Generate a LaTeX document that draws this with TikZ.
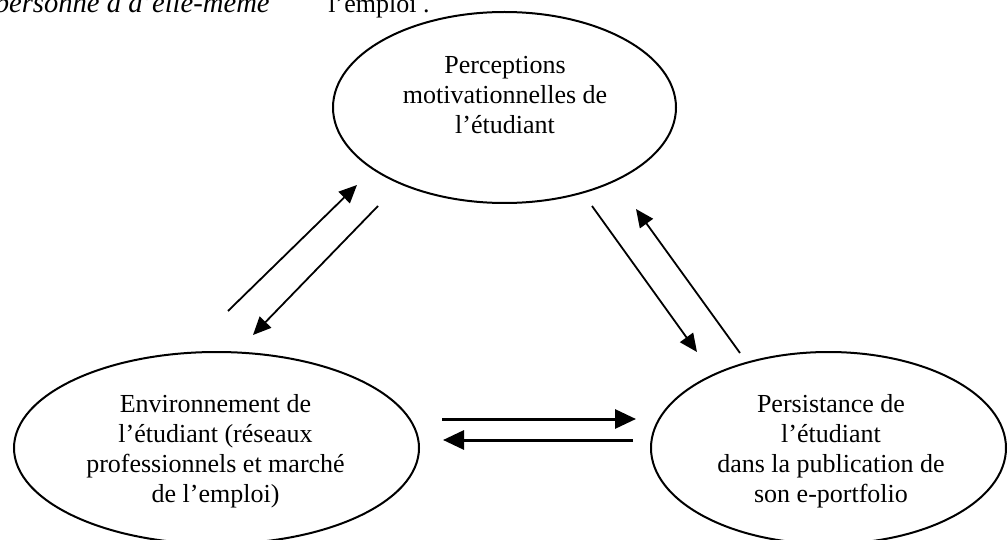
\documentclass[tikz,border=0pt]{standalone}
\usepackage{fontspec}
\setmainfont{Liberation Serif}
\usetikzlibrary{arrows.meta,shapes.geometric}
\tikzset{
  bubble/.style={draw, ellipse, line width=1pt, inner sep=0pt},
  bubbletext/.style={align=center, inner sep=0pt, font=\fontsize{13}{15}\selectfont},
  thinarrow/.style={line width=0.9pt, -{Triangle[length=9pt,width=8pt]}},
  thickarrow/.style={line width=1.5pt, -{Triangle[length=10.5pt,width=9.5pt]}},
  toptext/.style={inner sep=0pt, font=\fontsize{13}{15}\selectfont}
}
\begin{document}
\begin{tikzpicture}[x=0.5pt,y=-0.5pt]
\useasboundingbox (0,0) rectangle (1008,540);
\clip (0,0) rectangle (1008,540);
% cut-off text at top
\node[toptext, font=\fontsize{14.3}{16}\selectfont\itshape, anchor=base east] (t1) at (270,13) {personne à d’elle-même};
\node[toptext, anchor=base west] (t2) at (328,13) {l’emploi .};
% ellipses
\node[bubble, minimum width=171.5pt, minimum height=95.5pt] (top) at (504.5,107.5) {};
\node[bubble, minimum width=202.5pt, minimum height=96pt] (left) at (216.5,448) {};
\node[bubble, minimum width=177.5pt, minimum height=96pt] (right) at (828.5,448) {};
% texts
\node[bubbletext] (toptxt) at (505,95) {Perceptions\\motivationnelles de\\l’étudiant};
\node[bubbletext] (lefttxt) at (215.5,451.5) {Environnement de\\l’étudiant (réseaux\\professionnels et marché\\de l’emploi)};
\node[bubbletext] (righttxt) at (831,451.5) {Persistance de\\l’étudiant\\dans la publication de\\son e-portfolio};
% arrow end points
\coordinate (a1s) at (228,311);
\coordinate (a1e) at (357,185);
\coordinate (a2s) at (378,206);
\coordinate (a2e) at (253,335);
\coordinate (a3s) at (592,206);
\coordinate (a3e) at (697,352);
\coordinate (a4s) at (740,353);
\coordinate (a4e) at (636,209);
\coordinate (a5s) at (442,419);
\coordinate (a5e) at (636,419);
\coordinate (a6s) at (633,440);
\coordinate (a6e) at (443,440);
% connectors
\draw[thinarrow] (a1s) -- (a1e);
\draw[thinarrow] (a2s) -- (a2e);
\draw[thinarrow] (a3s) -- (a3e);
\draw[thinarrow] (a4s) -- (a4e);
\draw[thickarrow] (a5s) -- (a5e);
\draw[thickarrow] (a6s) -- (a6e);
\end{tikzpicture}
\end{document}
